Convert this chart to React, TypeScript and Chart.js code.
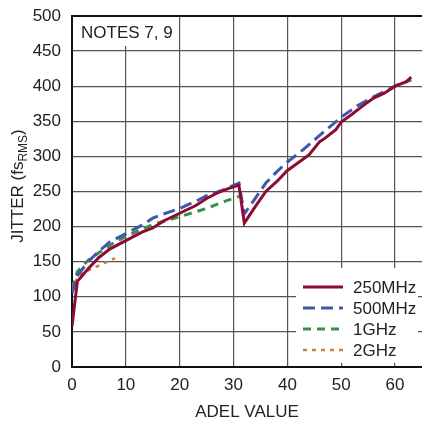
import React, { useEffect, useRef } from "react";
import { Chart, registerables } from "chart.js";

Chart.register(...registerables);

const adel250 = [0, 1, 3, 5, 7, 10, 13, 15, 17, 20, 23, 25, 27, 29, 31, 32, 34, 36, 38, 40, 42, 44, 46, 47, 49, 50, 52, 54, 56, 58, 60, 62, 63];
const jitter250 = [58, 122, 140, 156, 168, 180, 192, 198, 208, 219, 230, 240, 248, 254, 259, 205, 228, 250, 264, 280, 291, 302, 321, 326, 338, 349, 360, 372, 383, 390, 400, 406, 413];

const adel500 = [0, 1, 3, 5, 7, 10, 13, 15, 17, 20, 23, 25, 28, 31, 32, 34, 36, 38, 40, 43, 46, 50, 53, 56, 60, 63];
const jitter500 = [105, 130, 150, 165, 178, 190, 202, 212, 218, 226, 236, 244, 252, 262, 218, 240, 262, 278, 292, 310, 330, 356, 372, 385, 400, 409];

const adel1G = [0, 1, 3, 5, 8, 10, 15, 20, 25, 28, 31];
const jitter1G = [112, 136, 152, 163, 178, 186, 203, 214, 226, 235, 243];

const adel2G = [0, 1, 2, 4, 6, 8];
const jitter2G = [108, 128, 134, 141, 148, 155];

const yTicks = [0, 50, 100, 150, 200, 250, 300, 350, 400, 450, 500];
const xTicks = [0, 10, 20, 30, 40, 50, 60];

const seriesNames = ["250MHz", "500MHz", "1GHz", "2GHz"];
const seriesColors = ["#8e0b36", "#3f59a8", "#37904a", "#d0803d"];
const seriesDash: number[][] = [[], [12, 6], [8, 6], [4, 5]];
const seriesWidth = [3, 3, 3, 2.5];

const FONT = "'Liberation Sans', Arial, sans-serif";

const pts = (xs: number[], ys: number[]) => xs.map((x, i) => ({ x, y: ys[i] }));

export default function App() {
  const ref = useRef<HTMLCanvasElement | null>(null);
  useEffect(() => {
    if (!ref.current) return;
    const decor = {
      id: "decor",
      beforeDatasetsDraw(chart: any) {
        const { ctx, chartArea } = chart;
        ctx.save();
        ctx.fillStyle = "#fff";
        ctx.fillRect(chartArea.left + 1, chartArea.top + 1, 106, 29);
        ctx.fillRect(296, 268, 122, chartArea.bottom - 268 - 4);
        ctx.strokeStyle = "#111";
        ctx.lineWidth = 2;
        ctx.beginPath();
        ctx.moveTo(chartArea.left - 1, chartArea.top);
        ctx.lineTo(chartArea.right, chartArea.top);
        ctx.stroke();
        ctx.restore();
      },
      afterDraw(chart: any) {
        const { ctx, chartArea } = chart;
        ctx.save();
        ctx.fillStyle = "#222";
        ctx.font = `17px ${FONT}`;
        ctx.textBaseline = "middle";
        ctx.textAlign = "left";
        ctx.fillText("NOTES 7, 9", chartArea.left + 9, chartArea.top + 17);
        const rows = [287, 308, 329, 350];
        rows.forEach((ry, i) => {
          ctx.strokeStyle = seriesColors[i];
          ctx.lineWidth = seriesWidth[i];
          ctx.setLineDash(seriesDash[i]);
          ctx.beginPath();
          ctx.moveTo(303, ry);
          ctx.lineTo(343, ry);
          ctx.stroke();
          ctx.setLineDash([]);
          ctx.fillStyle = "#222";
          ctx.fillText(seriesNames[i], 353, ry + 1);
        });
        const main1 = "JITTER (fs";
        const sub = "RMS";
        const main2 = ")";
        ctx.font = `17px ${FONT}`;
        const w1 = ctx.measureText(main1).width;
        const w3 = ctx.measureText(main2).width;
        ctx.font = `12px ${FONT}`;
        const w2 = ctx.measureText(sub).width;
        const total = w1 + w2 + w3;
        ctx.translate(17, 186);
        ctx.rotate(-Math.PI / 2);
        ctx.textBaseline = "alphabetic";
        let x0 = -total / 2;
        ctx.font = `17px ${FONT}`;
        ctx.fillText(main1, x0, 6);
        x0 += w1;
        ctx.font = `12px ${FONT}`;
        ctx.fillText(sub, x0, 10);
        x0 += w2;
        ctx.font = `17px ${FONT}`;
        ctx.fillText(main2, x0, 6);
        ctx.restore();
      },
    };

    const mk = (i: number, xs: number[], ys: number[]) => ({
      label: seriesNames[i],
      data: pts(xs, ys),
      borderColor: seriesColors[i],
      backgroundColor: seriesColors[i],
      borderWidth: seriesWidth[i],
      borderDash: seriesDash[i],
      pointRadius: 0,
      tension: 0,
      fill: false,
      order: i,
    });

    const chart = new Chart(ref.current, {
      type: "line",
      data: {
        datasets: [
          mk(0, adel250, jitter250),
          mk(1, adel500, jitter500),
          mk(2, adel1G, jitter1G),
          mk(3, adel2G, jitter2G),
        ],
      },
      options: {
        animation: false,
        responsive: false,
        maintainAspectRatio: false,
        layout: { padding: { top: 16, right: 0, left: 0, bottom: 0 } },
        plugins: { legend: { display: false }, tooltip: { enabled: false } },
        scales: {
          x: {
            type: "linear",
            min: 0,
            max: 65,
            afterBuildTicks: (s: any) => {
              s.ticks = xTicks.map((v) => ({ value: v }));
            },
            afterFit: (s: any) => {
              s.height = 56;
              s.paddingLeft = 0;
              s.paddingRight = 0;
            },
            grid: { color: "#555", lineWidth: 1.2, drawTicks: false },
            border: { color: "#111", width: 2 },
            ticks: {
              color: "#222",
              font: { family: FONT, size: 17 },
              padding: 8,
              maxRotation: 0,
            },
            title: {
              display: true,
              text: "ADEL VALUE",
              color: "#222",
              font: { family: FONT, size: 17 },
              padding: { top: 2, bottom: 0 },
            },
          },
          y: {
            type: "linear",
            min: 0,
            max: 500,
            afterBuildTicks: (s: any) => {
              s.ticks = yTicks.map((v) => ({ value: v }));
            },
            afterFit: (s: any) => {
              s.width = 72;
              s.paddingTop = 0;
              s.paddingBottom = 0;
            },
            grid: { color: "#555", lineWidth: 1.2, drawTicks: false },
            border: { color: "#111", width: 2 },
            ticks: {
              color: "#222",
              font: { family: FONT, size: 17 },
              padding: 11,
            },
          },
        },
      },
      plugins: [decor],
    } as any);
    return () => chart.destroy();
  }, []);

  return (
    <div style={{ position: "fixed", left: 0, top: 0, width: 422, height: 423, background: "#fff" }}>
      <canvas ref={ref} width={422} height={423} style={{ width: 422, height: 423 }} />
    </div>
  );
}
